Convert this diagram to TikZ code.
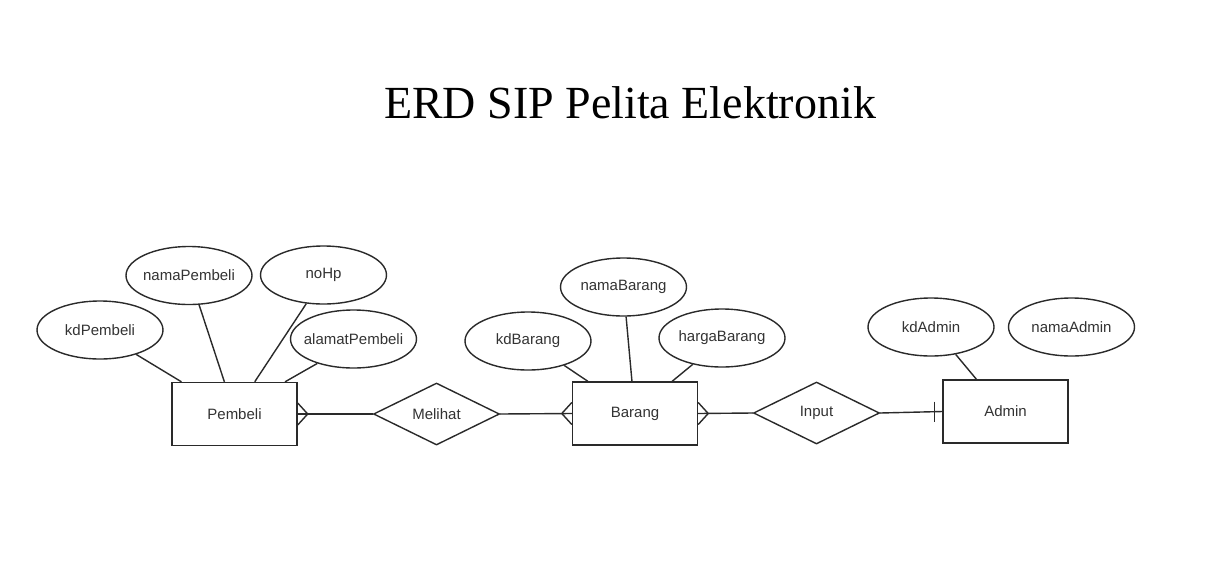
\documentclass[tikz,border=0pt]{standalone}
\usepackage{fontspec}
\setmainfont{Liberation Serif}
\newfontfamily\arialfont{Liberation Sans}
\usetikzlibrary{shapes.geometric,calc}
\definecolor{linec}{HTML}{2A2A2A}
\definecolor{textc}{HTML}{333333}
\tikzset{
  base/.style={draw=linec, line width=1.4pt, inner sep=0pt, label={[font=\arialfont\fontsize{15}{18}\selectfont, text=textc]center:#1}},
  entity/.style={base=#1, rectangle, minimum width=125pt, minimum height=63pt},
  attr/.style={base=#1, ellipse, minimum width=126pt, minimum height=58pt},
  rel/.style={base=#1, diamond, minimum width=126pt, minimum height=62pt},
  conn/.style={draw=linec, line width=1.4pt},
  titletext/.style={font=\fontsize{46}{55}\selectfont, text=black, inner sep=0pt, anchor=base}
}
\begin{document}
\begin{tikzpicture}[x=1pt, y=-1pt]
\useasboundingbox (0,0) rectangle (1223,560);
\fill[white] (0,0) rectangle (1223,560);

\node[titletext] (title) at (630,118) {ERD SIP Pelita Elektronik};

% entities
\node[entity=Pembeli] (Pembeli) at (234.5,414) {};
\node[entity=Barang] (Barang) at (635,413.5) {};
\node[entity=Admin] (Admin) at (1005.5,411.5) {};

% relationships
\node[rel=Melihat] (Melihat) at (436.5,414) {};
\node[rel=Input] (Input) at (816.5,413) {};

% attributes
\node[attr=kdPembeli] (kdPembeli) at (100,330) {};
\node[attr=namaPembeli] (namaPembeli) at (189,275.5) {};
\node[attr=noHp] (noHp) at (323.5,275) {};
\node[attr=alamatPembeli] (alamatPembeli) at (353.5,339) {};
\node[attr=kdBarang] (kdBarang) at (528,341) {};
\node[attr=namaBarang] (namaBarang) at (623.5,287) {};
\node[attr=hargaBarang] (hargaBarang) at (722,338) {};
\node[attr=kdAdmin] (kdAdmin) at (931,327) {};
\node[attr=namaAdmin] (namaAdmin) at (1071.5,327) {};

% attribute links
\draw[conn] (kdPembeli.-34) -- ($(Pembeli.north west)!0.08!(Pembeli.north east)$);
\draw[conn] (namaPembeli.-71) -- ($(Pembeli.north west)!0.42!(Pembeli.north east)$);
\draw[conn] (noHp.-121) -- ($(Pembeli.north west)!0.66!(Pembeli.north east)$);
\draw[conn] (alamatPembeli.-146) -- ($(Pembeli.north west)!0.9!(Pembeli.north east)$);
\draw[conn] (kdBarang.-34) -- ($(Barang.north west)!0.127!(Barang.north east)$);
\draw[conn] (namaBarang.-85) -- ($(Barang.north west)!0.476!(Barang.north east)$);
\draw[conn] (hargaBarang.-138) -- ($(Barang.north west)!0.794!(Barang.north east)$);
\draw[conn] (kdAdmin.-48) -- ($(Admin.north west)!0.27!(Admin.north east)$);

% relationship links
\draw[conn] (Pembeli.east) -- (Melihat.west);
\draw[conn] ($(Pembeli.east)+(0,-11)$) -- ($(Pembeli.east)+(10,0)$) -- ($(Pembeli.east)+(0,11)$);
\draw[conn] (Melihat.east) -- (Barang.west);
\draw[conn] ($(Barang.west)+(0,-11)$) -- ($(Barang.west)+(-10,0)$) -- ($(Barang.west)+(0,11)$);
\draw[conn] (Barang.east) -- (Input.west);
\draw[conn] ($(Barang.east)+(0,-11)$) -- ($(Barang.east)+(10,0)$) -- ($(Barang.east)+(0,11)$);
\draw[conn] (Input.east) -- (Admin.west);
\draw[conn] ($(Admin.west)+(-8,-10)$) -- ($(Admin.west)+(-8,10)$);
\end{tikzpicture}
\end{document}
